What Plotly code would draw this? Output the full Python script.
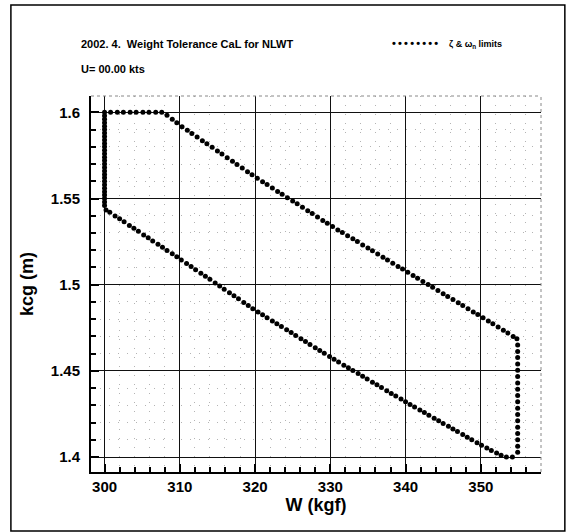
import plotly.graph_objects as go

# ---- data (W in kgf, kcg in m) ----
top_w = [300.0, 300.8, 301.7, 302.5, 303.4, 304.2, 305.1, 305.9, 306.8, 307.6]
top_kcg = [1.600, 1.600, 1.600, 1.600, 1.600, 1.600, 1.600, 1.600, 1.600, 1.600]

upper_w = [308.3, 309.0, 309.6, 310.3, 311.0, 311.6, 312.3, 313.0, 313.6, 314.3,
           315.0, 315.6, 316.3, 317.0, 317.6, 318.3, 319.0, 319.6, 320.3, 321.0,
           321.6, 322.3, 323.0, 323.6, 324.3, 325.0, 325.6, 326.3, 327.0, 327.6,
           328.3, 329.0, 329.6, 330.3, 331.0, 331.6, 332.3, 333.0, 333.6, 334.3,
           335.0, 335.6, 336.3, 337.0, 337.6, 338.3, 339.0, 339.6, 340.3, 341.0,
           341.6, 342.3, 343.0, 343.6, 344.3, 345.0, 345.6, 346.3, 347.0, 347.6,
           348.3, 349.0, 349.6, 350.3, 351.0, 351.6, 352.3, 353.0, 353.6, 354.3,
           354.8]
upper_kcg = [1.5983, 1.5960, 1.5940, 1.5917, 1.5896, 1.5878, 1.5857, 1.5836, 1.5818, 1.5797,
             1.5776, 1.5758, 1.5737, 1.5716, 1.5698, 1.5677, 1.5656, 1.5638, 1.5618, 1.5598,
             1.5581, 1.5561, 1.5541, 1.5525, 1.5505, 1.5486, 1.5469, 1.5449, 1.5429, 1.5413,
             1.5393, 1.5373, 1.5356, 1.5337, 1.5318, 1.5303, 1.5284, 1.5266, 1.5250, 1.5231,
             1.5213, 1.5197, 1.5178, 1.5159, 1.5144, 1.5125, 1.5106, 1.5091, 1.5072, 1.5054,
             1.5038, 1.5019, 1.5001, 1.4985, 1.4966, 1.4948, 1.4932, 1.4914, 1.4895, 1.4879,
             1.4861, 1.4842, 1.4827, 1.4808, 1.4789, 1.4773, 1.4754, 1.4735, 1.4719, 1.4700,
             1.4686]

right_w = [354.9, 354.9, 354.9, 354.9, 354.9, 354.9, 354.9, 354.9, 354.9,
           354.9, 354.9, 354.9, 354.9, 354.9, 354.9, 354.9, 354.9, 354.9]
right_kcg = [1.4650, 1.4613, 1.4577, 1.4540, 1.4503, 1.4467, 1.4430, 1.4393, 1.4357,
             1.4320, 1.4283, 1.4247, 1.4210, 1.4173, 1.4137, 1.4100, 1.4063, 1.4027]

lower_w = [354.2, 353.4, 352.7, 352.1, 351.4, 350.8, 350.1, 349.5, 348.8, 348.2,
           347.6, 346.9, 346.3, 345.7, 345.0, 344.4, 343.8, 343.1, 342.5, 341.9,
           341.2, 340.6, 340.0, 339.4, 338.7, 338.1, 337.5, 336.8, 336.2, 335.6,
           334.9, 334.3, 333.7, 333.0, 332.4, 331.8, 331.1, 330.5, 329.9, 329.2,
           328.6, 328.0, 327.3, 326.7, 326.1, 325.4, 324.8, 324.2, 323.5, 322.9,
           322.3, 321.6, 321.0, 320.4, 319.7, 319.1, 318.5, 317.8, 317.2, 316.6,
           315.9, 315.3, 314.7, 314.0, 313.4, 312.8, 312.1, 311.5, 310.9, 310.2,
           309.6, 309.0, 308.3, 307.7, 307.1, 306.4, 305.8, 305.2, 304.5, 303.9,
           303.3, 302.6, 302.0, 301.4, 300.7, 300.2]
lower_kcg = [1.4000, 1.4000, 1.4010, 1.4023, 1.4038, 1.4052, 1.4068, 1.4083, 1.4100, 1.4115,
             1.4130, 1.4148, 1.4163, 1.4178, 1.4195, 1.4210, 1.4225, 1.4243, 1.4258, 1.4273,
             1.4290, 1.4305, 1.4320, 1.4336, 1.4354, 1.4369, 1.4385, 1.4403, 1.4419, 1.4434,
             1.4453, 1.4468, 1.4484, 1.4502, 1.4518, 1.4533, 1.4551, 1.4567, 1.4583, 1.4602,
             1.4618, 1.4634, 1.4653, 1.4670, 1.4686, 1.4705, 1.4722, 1.4738, 1.4757, 1.4773,
             1.4790, 1.4808, 1.4825, 1.4841, 1.4861, 1.4879, 1.4897, 1.4918, 1.4936, 1.4953,
             1.4974, 1.4992, 1.5010, 1.5031, 1.5049, 1.5067, 1.5087, 1.5105, 1.5123, 1.5144,
             1.5162, 1.5179, 1.5199, 1.5217, 1.5234, 1.5254, 1.5272, 1.5289, 1.5310, 1.5327,
             1.5344, 1.5365, 1.5382, 1.5399, 1.5420, 1.5434]

left_w = [300.0, 300.0, 300.0, 300.0, 300.0, 300.0, 300.0, 300.0, 300.0,
          300.0, 300.0, 300.0, 300.0, 300.0, 300.0, 300.0, 300.0, 300.0,
          300.0, 300.0, 300.0, 300.0, 300.0, 300.0, 300.0, 300.0, 300.0]
left_kcg = [1.546, 1.548, 1.550, 1.552, 1.554, 1.556, 1.558, 1.560, 1.562,
            1.564, 1.566, 1.568, 1.570, 1.572, 1.574, 1.576, 1.578, 1.580,
            1.582, 1.584, 1.586, 1.588, 1.590, 1.592, 1.594, 1.596, 1.598]

x_ticks = [300, 310, 320, 330, 340, 350]
y_ticks = [1.4, 1.45, 1.5, 1.55, 1.6]

title_text = "2002. 4.  Weight Tolerance CaL for NLWT"
subtitle_text = "U= 00.00 kts"
legend_text = "ζ &amp; ω<sub>n</sub> limits"
legend_sample = "\u2009".join(["•"] * 8)

FONT = "Liberation Sans, Arial, sans-serif"

all_w = top_w + upper_w + right_w + lower_w + left_w
all_kcg = top_kcg + upper_kcg + right_kcg + lower_kcg + left_kcg

fig = go.Figure()
fig.add_trace(go.Scatter(
    x=all_w, y=all_kcg, mode="markers",
    marker=dict(color="black", size=5, symbol="circle"),
    showlegend=False, hoverinfo="skip"))

axis_common = dict(
    showline=True, linecolor="black", linewidth=2, mirror=False,
    showgrid=True, gridcolor="#111", gridwidth=1,
    ticks="inside", ticklen=8, tickwidth=2, tickcolor="black",
    tickfont=dict(family=FONT, size=15, color="black", weight="bold"),
    zeroline=False,
)

minor_common = dict(ticks="inside", ticklen=5, tickwidth=1.5, tickcolor="black",
                    showgrid=True, gridcolor="#b4b4b4", griddash="1px,8px",
                    gridwidth=1)

fig.update_layout(
    width=577, height=532,
    paper_bgcolor="white", plot_bgcolor="white",
    margin=dict(l=91, r=36, t=96, b=60),
    font=dict(family=FONT, color="black"),
    xaxis=dict(
        range=[298.2, 358.0], tickvals=x_ticks, ticktext=[str(v) for v in x_ticks],
        title=dict(text="W (kgf)", standoff=4,
                   font=dict(family=FONT, size=18, color="black", weight="bold")),
        minor=dict(dtick=2, tick0=300, **minor_common),
        **axis_common),
    yaxis=dict(
        range=[1.3913, 1.6095], tickvals=y_ticks, ticktext=[str(v) for v in y_ticks],
        ticklabelstandoff=6,
        title=dict(text="kcg (m)", standoff=12,
                   font=dict(family=FONT, size=18, color="black", weight="bold")),
        minor=dict(dtick=0.01, tick0=1.4, **minor_common),
        **axis_common),
)

# dotted frame on top/right of plot area
fig.add_shape(type="line", xref="paper", yref="paper", x0=0, x1=1, y0=1, y1=1,
              line=dict(color="#888", width=1, dash="dot"))
fig.add_shape(type="line", xref="paper", yref="paper", x0=1, x1=1, y0=0, y1=1,
              line=dict(color="#888", width=1, dash="dot"))
# outer page frame
fig.add_shape(type="rect", xref="paper", yref="paper",
              x0=-0.178, x1=1.053, y0=-0.157, y1=1.242,
              line=dict(color="black", width=1.5), layer="below")

fig.add_annotation(xref="paper", yref="paper", x=-0.027, y=1.138,
                   xanchor="left", yanchor="middle", showarrow=False,
                   text=title_text,
                   font=dict(family=FONT, size=11, color="black", weight="bold"))
fig.add_annotation(xref="paper", yref="paper", x=-0.027, y=1.072,
                   xanchor="left", yanchor="middle", showarrow=False,
                   text=subtitle_text,
                   font=dict(family=FONT, size=11, color="black", weight="bold"))
fig.add_annotation(xref="paper", yref="paper", x=0.664, y=1.140,
                   xanchor="left", yanchor="middle", showarrow=False,
                   text=legend_sample,
                   font=dict(family=FONT, size=11, color="black", weight="bold"))
fig.add_annotation(xref="paper", yref="paper", x=0.790, y=1.138,
                   xanchor="left", yanchor="middle", showarrow=False,
                   text=legend_text,
                   font=dict(family=FONT, size=9, color="black", weight="bold"))

fig.write_html("out.html")
